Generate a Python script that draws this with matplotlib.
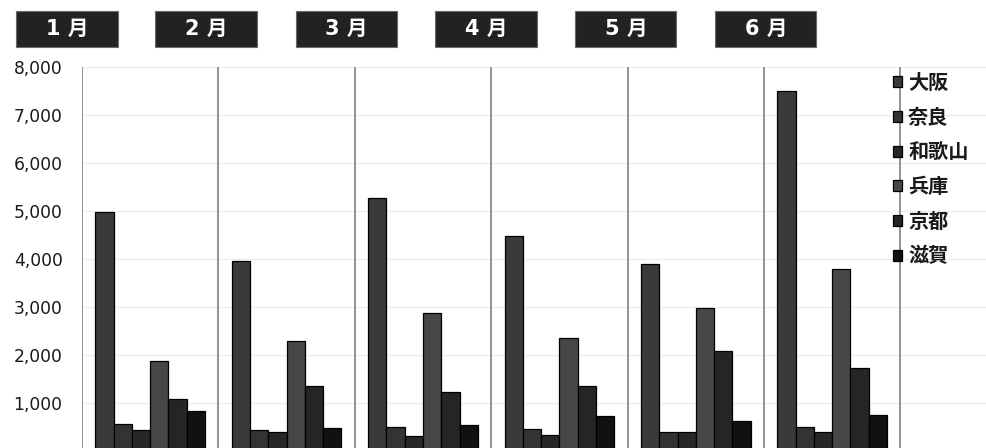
import matplotlib
matplotlib.use("Agg")
import matplotlib.pyplot as plt
from matplotlib.patches import Rectangle
import numpy as np

plt.rcParams['font.family'] = ['Noto Sans CJK JP', 'DejaVu Sans']

months = ["1 月", "2 月", "3 月", "4 月", "5 月", "6 月"]
prefectures = ["大阪", "奈良", "和歌山", "兵庫", "京都", "滋賀"]
osaka    = [4970, 3960, 5280, 4480, 3890, 7510]
nara     = [560, 440, 490, 450, 385, 500]
wakayama = [440, 400, 310, 340, 385, 405]
hyogo    = [1880, 2300, 2880, 2350, 2970, 3790]
kyoto    = [1090, 1360, 1230, 1360, 2080, 1720]
shiga    = [830, 470, 550, 730, 630, 745]
series = [osaka, nara, wakayama, hyogo, kyoto, shiga]
colors = ["#3a3a3a", "#333333", "#272727", "#474747", "#252525", "#111111"]
yticks = [1000, 2000, 3000, 4000, 5000, 6000, 7000, 8000]

W, H = 987, 448
fig = plt.figure(figsize=(W / 100, H / 100), dpi=100)
ax = fig.add_axes([82 / W, 0, 1 - 82 / W, (H - 67) / H])

n = len(months)
x = np.arange(n)
bw = 0.134
for i, (vals, c, lab) in enumerate(zip(series, colors, prefectures)):
    ax.bar(x + (i - 2.5) * bw, vals, width=bw, color=c, edgecolor="#000000",
           linewidth=0.9, label=lab, zorder=3)

ax.set_xlim(-0.5, -0.5 + (W - 82) / 136.4)
ax.set_ylim(62, 8000)
for b in np.arange(n + 1) - 0.5:
    ax.axvline(b, color="#8a8a8a", linewidth=1.3, zorder=4)

ax.set_yticks(yticks)
ax.set_yticklabels([f"{v:,}" for v in yticks], fontsize=12.3, color="#1a1a1a",
                   family=["DejaVu Sans"])
ax.tick_params(axis="y", length=0, pad=14)
ax.set_xticks([])
ax.yaxis.grid(True, color="#eeeeee", linewidth=1.0, zorder=0)
for s in ax.spines.values():
    s.set_visible(False)

leg = ax.legend(loc="upper left", bbox_to_anchor=(893 / W, 1 - 72 / H),
                bbox_transform=fig.transFigure, frameon=False,
                fontsize=14.5, handlelength=0.45, handleheight=0.45,
                handletextpad=0.3, labelspacing=0.68, borderaxespad=0,
                borderpad=0)
for t in leg.get_texts():
    t.set_fontweight("bold")
    t.set_color("#1a1a1a")

box_centers = [67, 206, 346, 486, 626, 766]
bwid, bhgt, btop = 101, 36, 11
for m, cx in zip(months, box_centers):
    fig.patches.append(Rectangle(((cx - bwid / 2) / W, 1 - (btop + bhgt) / H),
                                 bwid / W, bhgt / H, transform=fig.transFigure,
                                 facecolor="#222222", edgecolor="#6a6a6a",
                                 linewidth=0.8))
    fig.text(cx / W, 1 - (btop + bhgt / 2) / H, m, ha="center", va="center",
             color="white", fontsize=15, fontweight="bold",
             family=["DejaVu Sans", "Noto Sans CJK JP"])

fig.savefig("out.png", dpi=100)
